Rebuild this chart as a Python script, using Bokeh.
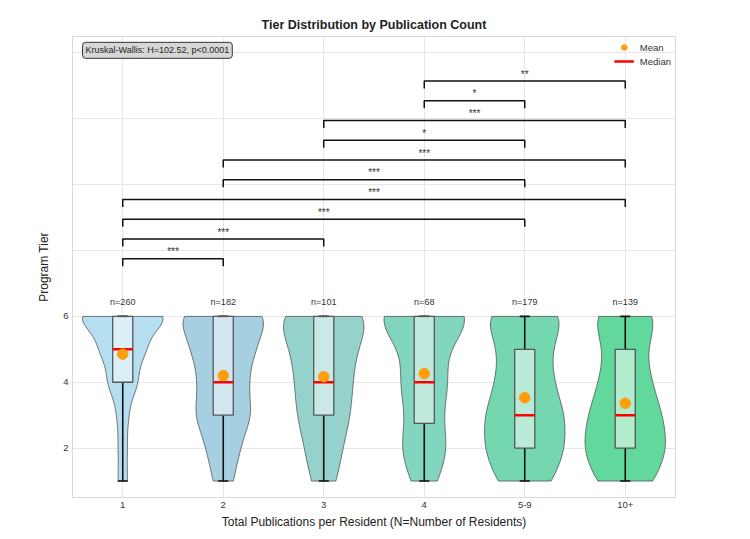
import numpy as np
from bokeh.plotting import figure
from bokeh.models import Range1d, FixedTicker, Legend, LegendItem, Label, ColumnDataSource
from bokeh.core.properties import value
from bokeh.embed import file_html
from bokeh.resources import INLINE

# Publication-count groups and how many residents fall into each program tier (1..6)
groups = ["1", "2", "3", "4", "5-9", "10+"]
tiers = [1, 2, 3, 4, 5, 6]
counts_1 = [13, 12, 15, 40, 60, 120]
counts_2 = [12, 19, 33, 28, 36, 54]
counts_3 = [8, 11, 16, 17, 19, 30]
counts_4 = [5, 12, 5, 13, 4, 29]
counts_5_9 = [25, 35, 35, 25, 22, 37]
counts_10 = [22, 31, 27, 19, 14, 26]
group_counts = [counts_1, counts_2, counts_3, counts_4, counts_5_9, counts_10]

# Pairwise comparisons (group index a, group index b, significance stars)
comparisons = [
    (0, 1, "***"), (0, 2, "***"), (0, 4, "***"), (0, 5, "***"),
    (1, 4, "***"), (1, 5, "***"), (2, 4, "*"), (2, 5, "***"),
    (3, 4, "*"), (3, 5, "**"),
]
kruskal_text = "Kruskal-Wallis: H=102.52, p<0.0001"

violin_colors = ["#B5DEF0", "#A6CFE2", "#95D2CC", "#82D5BE", "#74D7B0", "#63D89D"]
FONT = "Liberation Sans"

p = figure(width=750, height=539, output_backend="svg", toolbar_location=None,
           x_range=Range1d(-0.5, 5.5), y_range=Range1d(0.5, 14.5),
           min_border_left=72, min_border_right=75, min_border_top=36, min_border_bottom=42)
p.title.text = "Tier Distribution by Publication Count"
p.title.align = "center"
p.title.text_font = FONT
p.title.text_font_size = "12.5px"
p.title.text_font_style = "bold"
p.title.text_color = "#222222"
p.title.standoff = 10

p.background_fill_color = "white"
p.outline_line_color = "#d9d9d9"
p.grid.grid_line_color = "#e6e6e6"
p.grid.grid_line_width = 1

p.xaxis.ticker = FixedTicker(ticks=list(range(len(groups))))
p.xaxis.major_label_overrides = {i: g for i, g in enumerate(groups)}
p.yaxis.ticker = FixedTicker(ticks=[2, 4, 6, 8, 10, 12, 14])
p.yaxis.major_label_overrides = {8: "", 10: "", 12: "", 14: ""}
for ax in (p.xaxis, p.yaxis):
    ax.axis_line_color = None
    ax.major_tick_line_color = None
    ax.minor_tick_line_color = None
    ax.major_tick_out = 0
    ax.major_tick_in = 0
    ax.minor_tick_out = 0
    ax.minor_tick_in = 0
    ax.major_label_text_font = FONT
    ax.major_label_text_font_size = "9.5px"
    ax.major_label_text_color = "#333333"
    ax.axis_label_text_font = FONT
    ax.axis_label_text_font_size = "12px"
    ax.axis_label_text_font_style = "normal"
    ax.axis_label_text_color = "#222222"
    ax.major_label_standoff = 4
p.xaxis.axis_label = "Total Publications per Resident (N=Number of Residents)"
p.yaxis.axis_label = "Program Tier"
p.xaxis.axis_label_standoff = 4
p.yaxis.axis_label_standoff = 9


def gaussian_kde(data, grid):
    # Scott's rule, as in matplotlib's violinplot
    n = len(data)
    bw = np.std(data, ddof=1) * n ** (-1.0 / 5)
    diff = (grid[:, None] - data[None, :]) / bw
    return np.exp(-0.5 * diff ** 2).sum(axis=1) / (n * bw * np.sqrt(2 * np.pi))


half_width = 0.4
box_w = 0.2
cap_w = 0.1

v_xs, v_ys = [], []
stats = dict(x=[], q1=[], q3=[], med=[], mean=[], lo=[], hi=[])
for i, cnt in enumerate(group_counts):
    data = np.repeat(tiers, cnt).astype(float)
    grid = np.linspace(data.min(), data.max(), 100)
    dens = gaussian_kde(data, grid)
    dens = dens / dens.max() * half_width
    v_xs.append(np.concatenate([i + dens, (i - dens)[::-1]]))
    v_ys.append(np.concatenate([grid, grid[::-1]]))

    q1, med, q3 = np.percentile(data, [25, 50, 75])
    iqr = q3 - q1
    lo = data[data >= q1 - 1.5 * iqr].min()
    hi = data[data <= q3 + 1.5 * iqr].max()
    stats["x"].append(i)
    stats["q1"].append(q1)
    stats["q3"].append(q3)
    stats["med"].append(med)
    stats["mean"].append(data.mean())
    stats["lo"].append(lo)
    stats["hi"].append(hi)

p.patches(v_xs, v_ys, fill_color=violin_colors, fill_alpha=1.0,
          line_color="#4a4a4a", line_width=1, line_alpha=0.75)

src = ColumnDataSource(stats)
xs = np.array(stats["x"], dtype=float)

# whiskers and caps
p.segment(x0="x", x1="x", y0="lo", y1="q1", source=src, line_color="#111111", line_width=1.6)
p.segment(x0="x", x1="x", y0="q3", y1="hi", source=src, line_color="#111111", line_width=1.6)
p.segment(x0=list(xs - cap_w / 2), x1=list(xs + cap_w / 2), y0=stats["lo"], y1=stats["lo"],
          line_color="#111111", line_width=1.6)
p.segment(x0=list(xs - cap_w / 2), x1=list(xs + cap_w / 2), y0=stats["hi"], y1=stats["hi"],
          line_color="#111111", line_width=1.6)

# boxes
p.vbar(x="x", width=box_w, top="q3", bottom="q1", source=src,
       fill_color="white", fill_alpha=0.5, line_color="#555555", line_width=1.3)

# medians and means
med_r = p.segment(x0=list(xs - box_w / 2), x1=list(xs + box_w / 2), y0=stats["med"], y1=stats["med"],
                  line_color="red", line_width=2.4)
mean_r = p.scatter(x="x", y="mean", source=src, size=10.5, fill_color="#FF9D0A",
                   line_color="#FF9D0A", marker="circle")

# sample sizes above each violin
n_labels = [f"n={sum(c)}" for c in group_counts]
p.text(x=list(range(len(groups))), y=[6.28] * len(groups), text=n_labels,
       text_align="center", text_baseline="bottom", text_font=value(FONT),
       text_font_size="9px", text_color="#333333")

# significance brackets
base, step, tip = 7.75, 0.6, 0.23
bx, by = [], []
sx, sy, st = [], [], []
for k, (a, b, stars) in enumerate(comparisons):
    h = base + step * k
    bx.append([a, a, b, b])
    by.append([h - tip, h, h, h - tip])
    sx.append((a + b) / 2)
    sy.append(h + 0.04)
    st.append(stars)
p.multi_line(bx, by, line_color="#111111", line_width=1.5)
p.text(x=sx, y=sy, text=st, text_align="center", text_baseline="bottom",
       text_font=value(FONT), text_font_size="10px", text_color="#333333")

# test statistic box
p.add_layout(Label(x=-0.40, y=14.08, text=kruskal_text, text_font=FONT, text_font_size="9px",
                   text_color="#222222", text_baseline="middle",
                   background_fill_color="#D3D3D3", background_fill_alpha=0.9,
                   border_line_color="#333333", border_line_width=1, border_radius=3,
                   padding=3))

legend = Legend(items=[LegendItem(label="Mean", renderers=[mean_r]),
                       LegendItem(label="Median", renderers=[med_r])],
                location="top_right")
legend.background_fill_alpha = 0
legend.border_line_color = None
legend.label_text_font = FONT
legend.label_text_font_size = "9.5px"
legend.label_text_color = "#333333"
legend.margin = 4
legend.padding = 3
legend.spacing = 0
legend.glyph_width = 20
legend.glyph_height = 14
legend.label_height = 14
legend.label_standoff = 6
p.add_layout(legend)

open("out.html", "w").write(file_html(p, INLINE))
